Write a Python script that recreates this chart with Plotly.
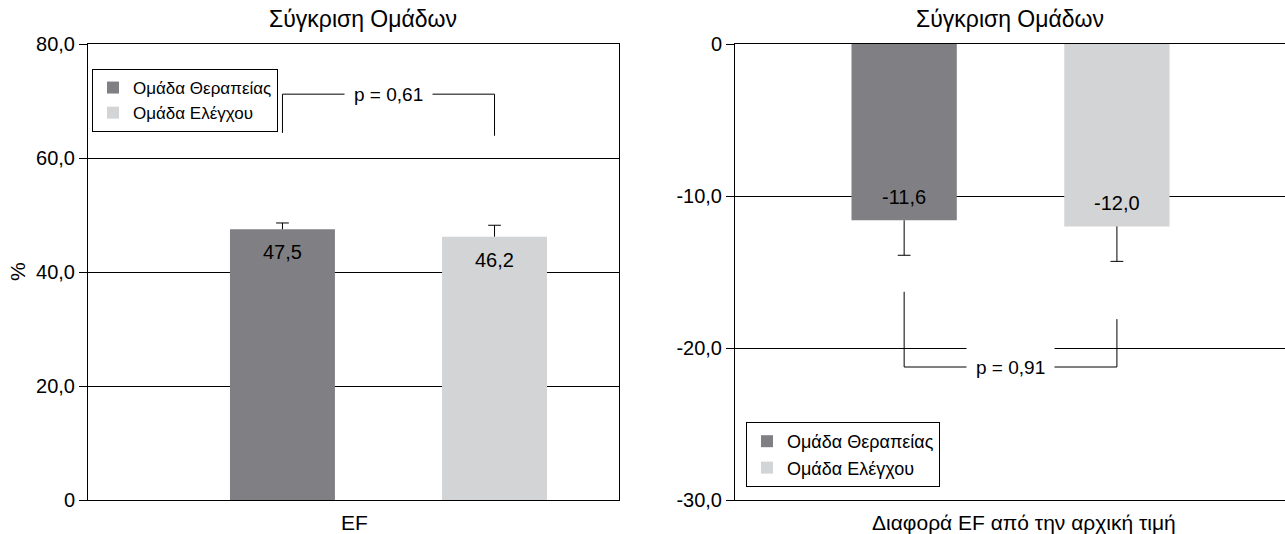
import plotly.graph_objects as go

# --- data -------------------------------------------------------------
groups = ["Ομάδα Θεραπείας", "Ομάδα Ελέγχου"]
group_colors = ["#808084", "#d3d4d6"]

ef_values = [47.5, 46.2]          # EF (%)
ef_err = [1.1, 2.0]               # upper error

diff_values = [-11.6, -12.0]      # change of EF from baseline
diff_err = [2.3, 2.3]             # lower error

left_ticks = [0, 20, 40, 60, 80]
left_ticktext = ["0", "20,0", "40,0", "60,0", "80,0"]
right_ticks = [0, -10, -20, -30]
right_ticktext = ["0", "-10,0", "-20,0", "-30,0"]

chart_title = "Σύγκριση Ομάδων"
left_xtitle = "EF"
right_xtitle = "Διαφορά EF από την αρχική τιμή"
left_ytitle = "%"
p_left = "p = 0,61"
p_right = "p = 0,91"

# bracket heights for the significance markers
bracket_left = {"legs": [64.4, 63.9], "bar": 71.2}
bracket_right = {"legs": [-16.3, -18.1], "bar": -21.25}

FONT = "Liberation Sans, Arial, sans-serif"
W, H = 1285, 534
MT, MB = 44, 34                   # top / bottom margins (px)
PH = H - MT - MB                  # plot-area height
BAR_W = 0.495
CAP = 0.03


def fmt(v):
    return f"{v:.1f}".replace(".", ",")


def py(px):
    """pixel row -> paper y of the plot area"""
    return (H - MB - px) / PH


fig = go.Figure()

subplots = [
    ("x", "y", ef_values, ef_err, 1, "legend", -1),
    ("x2", "y2", diff_values, diff_err, -1, "legend2", 1),
]

for xa, ya, vals, errs, sign, leg, lab_dir in subplots:
    for i, (g, v) in enumerate(zip(groups, vals)):
        fig.add_trace(go.Bar(
            x=[i], y=[v], width=BAR_W, name=g,
            marker=dict(color=group_colors[i], line=dict(width=0)),
            xaxis=xa, yaxis=ya, legend=leg, legendgroup=f"{leg}{i}",
            hoverinfo="skip",
        ))
        # value label inside the bar, near its end
        fig.add_annotation(
            x=i, y=v, xref=xa, yref=ya, text=fmt(v), showarrow=False,
            yanchor="middle", yshift=lab_dir * 23,
            font=dict(family=FONT, size=20, color="black"),
        )
    # one-sided error whiskers with caps
    ex, ey = [], []
    for i, (v, e) in enumerate(zip(vals, errs)):
        end = v + sign * e
        ex += [i, i, None, i - CAP, i + CAP, None]
        ey += [v, end, None, end, end, None]
    fig.add_trace(go.Scatter(
        x=ex, y=ey, mode="lines", line=dict(color="black", width=1),
        xaxis=xa, yaxis=ya, showlegend=False, hoverinfo="skip",
    ))

# significance brackets
for xa, ya, br, ptxt in [("x", "y", bracket_left, p_left),
                         ("x2", "y2", bracket_right, p_right)]:
    fig.add_trace(go.Scatter(
        x=[0, 0, 1, 1],
        y=[br["legs"][0], br["bar"], br["bar"], br["legs"][1]],
        mode="lines", line=dict(color="black", width=1),
        xaxis=xa, yaxis=ya, showlegend=False, hoverinfo="skip",
    ))
    fig.add_annotation(
        x=0.5, y=br["bar"], xref=xa, yref=ya, text=ptxt, showarrow=False,
        bgcolor="white", borderpad=9, xanchor="center",
        font=dict(family=FONT, size=19, color="black"),
    )

axis_common = dict(
    showline=True, linecolor="black", linewidth=1,
    zeroline=False, fixedrange=True, automargin=False,
)

fig.update_layout(
    width=W, height=H,
    margin=dict(l=0, r=0, t=MT, b=MB, pad=0),
    paper_bgcolor="white", plot_bgcolor="white",
    barmode="overlay",
    font=dict(family=FONT, color="black"),
    showlegend=True,
    xaxis=dict(
        domain=[88 / W, 619 / W], range=[-0.917, 1.587],
        showticklabels=False, ticks="", showgrid=False, mirror=True,
        anchor="y", **axis_common,
    ),
    yaxis=dict(
        domain=[0, 1], range=[0, 80],
        tickvals=left_ticks, ticktext=left_ticktext,
        ticks="outside", ticklen=8, tickcolor="black",
        tickfont=dict(size=20),
        showgrid=True, gridcolor="black", gridwidth=1, mirror=True,
        anchor="x", **axis_common,
    ),
    xaxis2=dict(
        domain=[735 / W, 1.0], range=[-0.795, 1.79],
        showticklabels=False, ticks="", showgrid=False, mirror=True,
        anchor="y2", **axis_common,
    ),
    yaxis2=dict(
        domain=[0, 1], range=[-30, 0],
        tickvals=right_ticks, ticktext=right_ticktext,
        ticks="outside", ticklen=8, tickcolor="black",
        tickfont=dict(size=20),
        showgrid=True, gridcolor="black", gridwidth=1,
        anchor="x2", **axis_common,
    ),
    legend=dict(
        x=92 / W, y=py(69), xanchor="left", yanchor="top",
        bgcolor="white", bordercolor="black", borderwidth=1,
        font=dict(size=17), tracegroupgap=0, itemclick=False,
    ),
    legend2=dict(
        x=746 / W, y=py(422), xanchor="left", yanchor="top",
        bgcolor="white", bordercolor="black", borderwidth=1,
        font=dict(size=18), tracegroupgap=0, itemclick=False,
    ),
)

# panel titles
for xc in [363, 1010]:
    fig.add_annotation(
        x=xc / W, y=py(19), xref="paper", yref="paper",
        text=chart_title, showarrow=False,
        xanchor="center", yanchor="middle",
        font=dict(family=FONT, size=23, color="black"),
    )

# category titles under each panel
for xc, txt in [(354, left_xtitle), (1024, right_xtitle)]:
    fig.add_annotation(
        x=xc / W, y=py(522), xref="paper", yref="paper",
        text=txt, showarrow=False, xanchor="center", yanchor="middle",
        font=dict(family=FONT, size=21, color="black"),
    )

# y-axis title of the left panel
fig.add_annotation(
    x=17 / W, y=py(272), xref="paper", yref="paper",
    text=left_ytitle, showarrow=False, textangle=-90,
    xanchor="center", yanchor="middle",
    font=dict(family=FONT, size=21, color="black"),
)

fig.write_html("out.html")
